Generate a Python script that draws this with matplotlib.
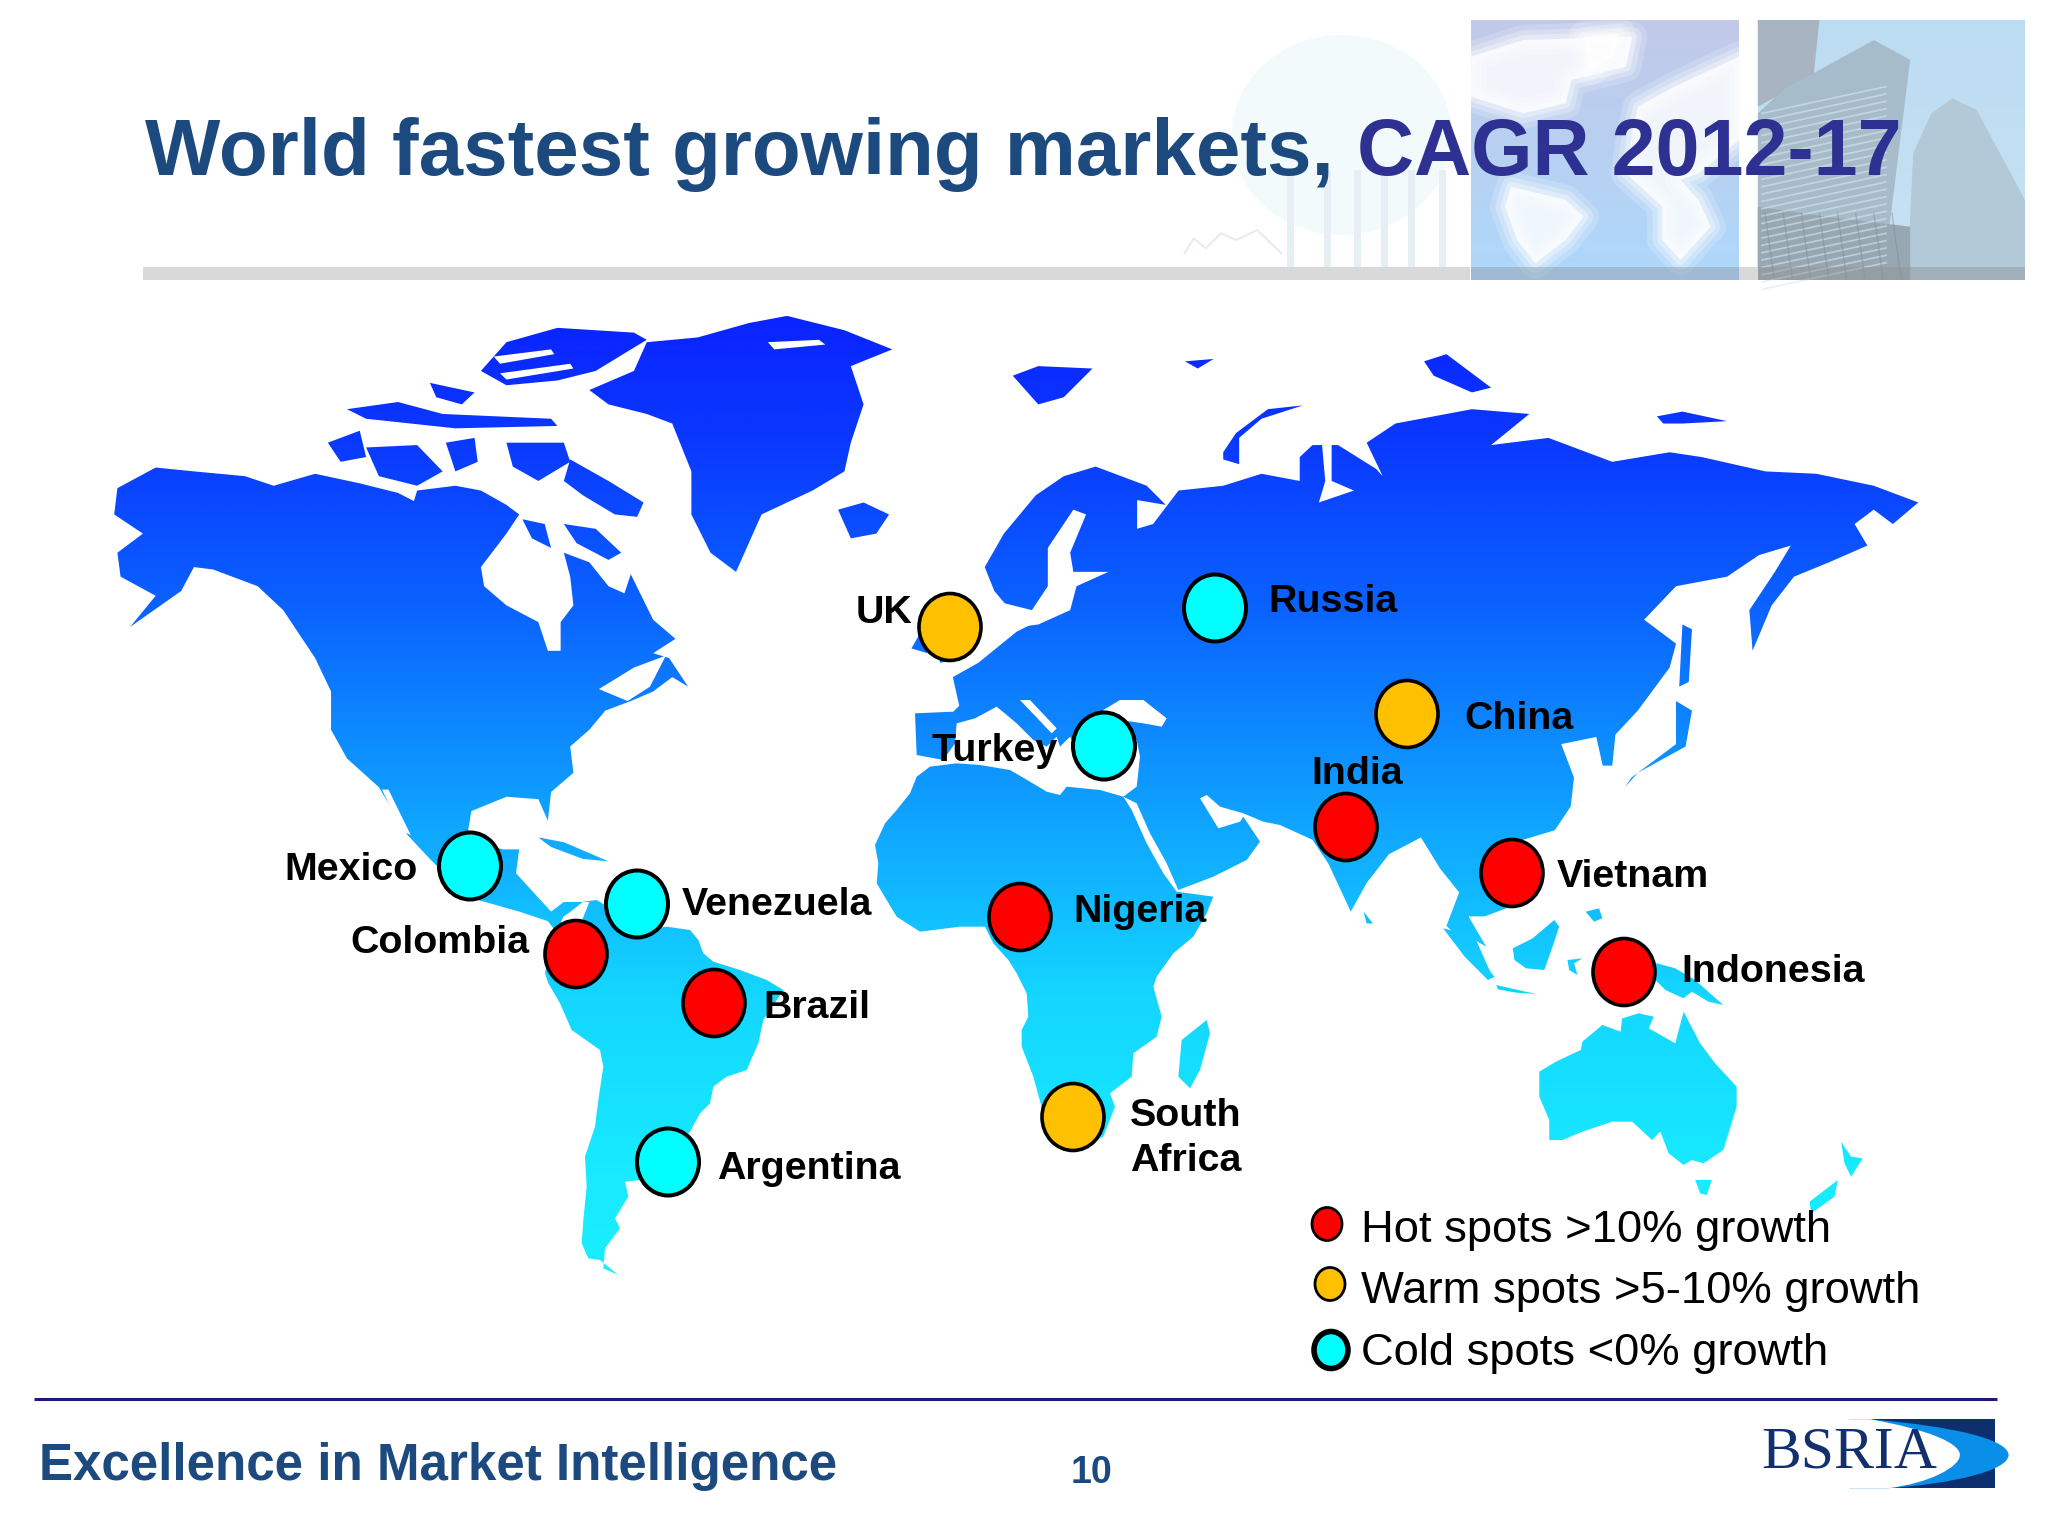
"""
World fastest growing markets slide, redrawn in pixel coordinates
"""

import matplotlib.pyplot as plt
import numpy as np
from matplotlib.colors import LinearSegmentedColormap
from matplotlib.patches import Ellipse, PathPatch, Polygon, Rectangle
from matplotlib.path import Path

FILE_NAME = 'out.png'

# ========== Data ==========
markets = ['Mexico', 'UK', 'Turkey', 'Venezuela', 'Colombia', 'Brazil', 'Argentina', 'Nigeria',
           'South\nAfrica', 'Russia', 'China', 'India', 'Vietnam', 'Indonesia']
market_group = ['cold', 'warm', 'cold', 'cold', 'hot', 'hot', 'cold', 'hot',
                'warm', 'cold', 'warm', 'hot', 'hot', 'hot']
market_x = [470, 950, 1104, 637, 576, 714, 668, 1020, 1073, 1215, 1407, 1346, 1512, 1624]
market_y = [866, 627, 746, 904, 954, 1003, 1162, 917, 1117, 608, 714, 827, 873, 972]
label_x = [284, 856, 932, 682, 350, 763, 717, 1073, 1130, 1268, 1464, 1311, 1557, 1681]
label_y = [880, 623, 761, 915, 953, 1018, 1179, 922, 1171, 612, 729, 784, 887, 982]

legend_labels = ['Hot spots >10% growth', 'Warm spots >5-10% growth', 'Cold spots <0% growth']
legend_groups = ['hot', 'warm', 'cold']
legend_marker_x = [1327, 1330, 1331]
legend_marker_y = [1224, 1284, 1350]
legend_text_y = [1242, 1303, 1365]

group_colors = {'hot': '#ff0000', 'warm': '#ffc000', 'cold': '#00ffff'}

# ========== Map outlines ==========
# Outlines were read off crops of the slide, every crop has its own origin and scale


def nw(*pts):
    return [(60 + x / 1.568, 280 + y / 2.09) for x, y in pts]


def ne(*pts):
    return [(1000 + x / 1.568, 280 + y / 2.09) for x, y in pts]


def sa(*pts):
    return [(500 + x / 3, 880 + y / 3) for x, y in pts]


def af(*pts):
    return [(860 + x / 3, 700 + y / 3) for x, y in pts]


def au(*pts):
    return [(1400 + x / 3.015, 880 + y / 3) for x, y in pts]


north_america = nw(
    (90, 435), (150, 392), (210, 400), (290, 410), (335, 430), (400, 405), (470, 425), (530, 445),
    (555, 462), (560, 440), (620, 430), (660, 440), (700, 470), (720, 490), (700, 530), (660, 600),
    (665, 640), (700, 680), (750, 715), (765, 775), (785, 775), (785, 715), (805, 680), (800, 620),
    (790, 570), (830, 590), (860, 640), (885, 655), (895, 615), (930, 710), (965, 750), (930, 780),
    (955, 790), (985, 850), (960, 830), (930, 860), (895, 880), (855, 900), (830, 940), (800, 975),
    (805, 1030), (770, 1070), (765, 1130), (750, 1085), (700, 1080), (645, 1110), (640, 1150),
    (660, 1180), (695, 1190), (720, 1190), (715, 1240), (770, 1320), (790, 1300), (830, 1300),
    (800, 1400), (765, 1340), (720, 1320), (640, 1290), (580, 1210), (545, 1160), (500, 1060),
    (450, 1000), (425, 940), (425, 860), (400, 790), (350, 690), (310, 640), (240, 605), (210, 600),
    (190, 650), (110, 725), (150, 660), (95, 620), (90, 570), (130, 530), (85, 490))
greenland = nw(
    (830, 230), (900, 190), (920, 130), (1000, 120), (1080, 90), (1140, 75), (1230, 105), (1305, 145),
    (1240, 180), (1260, 260), (1240, 340), (1230, 400), (1180, 440), (1100, 490), (1060, 610),
    (1020, 570), (990, 490), (990, 400), (960, 300), (920, 280), (860, 260))
canada_islands = [
    nw((480, 350), (560, 345), (600, 400), (560, 430), (500, 410)),
    nw((420, 340), (470, 315), (480, 370), (440, 380)),
    nw((605, 340), (650, 330), (655, 380), (620, 400)),
    nw((700, 340), (790, 340), (800, 380), (750, 420), (710, 390)),
    nw((800, 375), (860, 420), (915, 465), (905, 495), (870, 490), (820, 450), (790, 420)),
    nw((790, 510), (840, 520), (880, 570), (860, 585), (810, 550)),
    nw((725, 500), (760, 510), (770, 560), (740, 540)),
    nw((660, 190), (700, 130), (780, 100), (900, 110), (920, 125), (840, 190), (780, 210), (700, 220)),
    nw((450, 270), (530, 255), (600, 280), (770, 290), (780, 305), (620, 310), (480, 290)),
    nw((580, 215), (650, 235), (630, 260), (590, 245)),
    nw((750, 1165), (790, 1175), (860, 1215), (820, 1210), (770, 1185))]
iceland = nw((1220, 480), (1260, 465), (1300, 490), (1280, 530), (1240, 540))
uk_ireland = [nw((1335, 770), (1350, 735), (1360, 780)), nw((1370, 660), (1420, 680), (1420, 790), (1380, 800))]

south_america = sa(
    (145, 310), (180, 370), (215, 450), (300, 510), (310, 560), (295, 660), (285, 740), (255, 830),
    (260, 920), (250, 1020), (245, 1090), (265, 1135), (300, 1140), (355, 1185), (310, 1165), (315, 1105),
    (360, 1045), (345, 1015), (385, 950), (375, 905), (420, 900), (500, 840), (570, 755), (600, 700),
    (630, 670), (640, 620), (680, 590), (740, 570), (775, 490), (790, 420), (850, 330), (800, 300),
    (720, 270), (640, 245), (610, 220), (595, 180), (570, 150), (500, 140), (420, 150), (340, 90),
    (290, 60), (250, 65), (205, 100), (190, 110), (150, 200), (135, 280))
africa = af(
    (45, 435), (75, 370), (110, 330), (150, 280), (170, 230), (210, 200), (290, 190), (360, 195),
    (450, 210), (510, 245), (560, 275), (600, 285), (620, 260), (720, 270), (790, 290), (815, 330),
    (860, 430), (910, 520), (950, 575), (1060, 590), (1040, 640), (1000, 710), (940, 760), (890, 830),
    (880, 860), (905, 950), (890, 1010), (820, 1060), (815, 1130), (750, 1180), (765, 1220), (730, 1310),
    (660, 1340), (600, 1330), (550, 1240), (520, 1130), (485, 1040), (485, 990), (505, 950), (500, 880),
    (470, 820), (445, 780), (400, 730), (375, 680), (300, 680), (180, 695), (110, 650), (50, 550), (55, 490))
madagascar = af((1040, 960), (1050, 1000), (1020, 1110), (990, 1165), (955, 1130), (965, 1020))

eurasia = (
    af((170, 165), (165, 40), (280, 35))
    + nw((1410, 890), (1400, 830), (1440, 800), (1500, 735), (1530, 715), (1500, 705), (1465, 650),
         (1450, 600), (1480, 530), (1530, 450))
    + ne((100, 410), (150, 390), (230, 430), (260, 470), (215, 460), (215, 520), (240, 510), (280, 440),
         (350, 430), (410, 405), (470, 420), (470, 370), (490, 345), (530, 345), (590, 395), (600, 410),
         (575, 340), (620, 300), (740, 270), (830, 280), (770, 345), (860, 330), (960, 380), (1050, 360),
         (1100, 370), (1200, 400), (1280, 405), (1370, 430), (1440, 465), (1400, 510), (1370, 480),
         (1340, 510), (1360, 555), (1300, 590), (1245, 620), (1210, 680), (1180, 775), (1175, 690),
         (1215, 610), (1240, 555), (1190, 575), (1140, 620), (1060, 640), (1010, 710), (1060, 760),
         (1050, 810), (1000, 900), (965, 950), (960, 1015), (945, 1015), (935, 955), (880, 970), (900, 1040),
         (895, 1100), (870, 1150), (820, 1170), (800, 1310), (760, 1330), (730, 1330), (770, 1450),
         (780, 1470), (740, 1400), (700, 1350), (720, 1280), (690, 1230), (660, 1165), (610, 1200),
         (575, 1260), (550, 1320), (515, 1220), (490, 1170))
    + af((1260, 375), (1210, 365), (1150, 340), (1080, 320), (1040, 285), (1020, 295), (1075, 385),
         (1140, 365), (1150, 350), (1200, 425), (1160, 480), (1060, 530), (955, 570), (920, 490), (870, 400),
         (830, 310), (810, 300), (790, 290), (830, 260), (840, 170), (830, 120), (700, 120), (640, 130),
         (630, 110), (600, 140), (590, 110), (560, 140), (520, 120), (470, 70), (410, 20), (345, 55), (290, 70),
         (285, 130), (250, 180)))
eurasia_islands = [
    ne((350, 360), (370, 320), (420, 270), (475, 262), (410, 290), (375, 330), (375, 385), (350, 375)),
    ne((20, 200), (60, 180), (145, 185), (100, 245), (60, 260)),
    ne((665, 170), (700, 155), (770, 225), (740, 235), (680, 200)),
    ne((1030, 285), (1070, 275), (1140, 295), (1070, 300), (1040, 300)),
    ne((290, 170), (335, 165), (310, 185)),
    ne((990, 1040), (1060, 970), (1060, 880), (1085, 900), (1075, 975), (1000, 1030), (980, 1060)),
    ne((1070, 720), (1085, 730), (1080, 840), (1065, 850)),
    ne((570, 1320), (585, 1345), (575, 1345))]
oceania = [
    au((560, 95), (600, 85), (610, 115), (585, 125)),
    au((130, 145), (170, 155), (285, 290), (265, 300), (195, 230)),
    au((175, 80), (195, 90), (260, 200), (225, 180)),
    au((290, 315), (410, 342), (350, 338), (295, 328)),
    au((340, 205), (400, 175), (465, 120), (480, 140), (460, 200), (435, 270), (380, 265), (345, 240)),
    au((505, 240), (550, 235), (525, 250), (535, 285), (510, 270)),
    au((775, 250), (830, 265), (890, 300), (935, 340), (975, 375), (930, 365), (880, 335), (855, 355),
       (800, 330), (770, 300), (700, 280)),
    au((420, 575), (470, 545), (545, 510), (550, 485), (610, 435), (665, 455), (670, 415), (720, 400),
       (765, 410), (750, 445), (830, 490), (855, 395), (905, 490), (950, 550), (1015, 620), (1015, 680),
       (975, 810), (915, 850), (880, 840), (855, 855), (810, 820), (785, 755), (760, 780), (700, 725),
       (640, 725), (550, 755), (490, 780), (450, 780), (450, 720), (420, 650)),
    au((890, 900), (940, 900), (925, 945), (905, 940)),
    au((1330, 785), (1360, 830), (1395, 835), (1360, 890), (1340, 850)),
    au((1320, 900), (1310, 950), (1240, 1000), (1235, 965))]

land = [north_america, greenland, iceland, south_america, africa, madagascar, eurasia]
land += canada_islands + uk_ireland + eurasia_islands + oceania

# Water cut out of the land again
water = [
    af((730, 30), (780, 0), (850, 0), (920, 55), (905, 80), (850, 70), (780, 60), (730, 70)),
    af((480, 0), (510, 0), (590, 85), (575, 100)),
    ne((115, 480), (135, 490), (110, 570), (115, 610), (170, 610), (120, 640), (110, 690), (60, 720),
       (0, 730), (-10, 670), (50, 690), (75, 640), (75, 560)),
    ne((505, 345), (520, 345), (520, 420), (555, 440), (500, 465), (510, 420)),
    nw((845, 855), (900, 810), (950, 785), (925, 850), (890, 880)),
    nw((505, 1065), (515, 1065), (550, 1160), (535, 1150)),
    nw((1110, 130), (1190, 125), (1200, 135), (1120, 145)),
    nw((680, 160), (770, 145), (775, 155), (690, 175)),
    nw((690, 195), (800, 175), (805, 185), (700, 208))]

# ========== Plot ==========
plt.rcParams['font.family'] = ['Liberation Sans', 'DejaVu Sans']

fig = plt.figure(figsize=(20.48, 15.36), dpi=100)
ax = fig.add_axes([0, 0, 1, 1])
ax.axis('off')

# ---------- Header pictures ----------


def head(*pts):
    return [(1100 + x / 1.654, y / 3) for x, y in pts]


def vgrad(top, bottom, extent, z=1, alpha=1.0):
    cmap = LinearSegmentedColormap.from_list('g', [top, bottom])
    g = np.linspace(0, 1, 200).reshape(-1, 1)
    return ax.imshow(g, cmap=cmap, extent=extent, aspect='auto', zorder=z, alpha=alpha)


# faded globe and columns
ax.add_patch(Ellipse((1100 + 400 / 1.654, 135), 220, 200, facecolor='#f2fafc', edgecolor='none', zorder=1))
for c in (310, 370, 420, 465, 510, 560):
    ax.add_patch(Rectangle((1100 + c / 1.654, 170), 7, 105, facecolor='#e6f0f4', edgecolor='none', zorder=1.1))
ax.plot(*zip(*head((140, 760), (155, 715), (175, 745), (200, 700), (225, 720), (260, 690), (300, 760))),
        color='#e6edef', linewidth=1.5, zorder=1.1)

# clouds panel
vgrad('#c2c9e9', '#aed8fb', (1471, 1739, 280, 20))
clouds = [
    head((614, 170), (700, 120), (880, 110), (870, 200), (780, 240), (770, 310), (700, 340), (614, 290)),
    head((680, 560), (770, 600), (800, 650), (770, 720), (720, 790), (690, 720), (670, 620)),
    head((890, 320), (950, 260), (1057, 170), (1057, 420), (990, 520), (960, 540), (990, 600), (1010, 680),
         (960, 780), (930, 720), (930, 620), (870, 520), (880, 400)),
    head((800, 110), (860, 100), (850, 170), (810, 210))]
panel_box = Rectangle((1471, 20), 268, 260, transform=ax.transData)
for cloud in clouds:
    # soft edge out of a few wide strokes
    for lw, a in ((22, 0.18), (14, 0.25), (7, 0.35)):
        p = Polygon(cloud, facecolor='none', edgecolor='white', linewidth=lw, alpha=a, joinstyle='round', zorder=1.2)
        ax.add_patch(p)
        p.set_clip_path(panel_box)
    p = Polygon(cloud, facecolor='white', edgecolor='none', alpha=0.8, zorder=1.25)
    ax.add_patch(p)
    p.set_clip_path(panel_box)

# towers panel
vgrad('#bcdcf2', '#c8e2f2', (1758, 2025, 280, 20))
towers = [
    (head((1088, 60), (1190, 60), (1180, 230), (1088, 320)), '#a9b4c2'),
    (head((1280, 120), (1340, 180), (1305, 690), (1300, 840), (1088, 840), (1088, 340), (1130, 270)), '#a7bccb'),
    (head((1410, 295), (1450, 330), (1530, 600), (1530, 840), (1335, 840), (1345, 460), (1375, 340)), '#b3c9d8'),
    (head((1088, 620), (1200, 650), (1340, 680), (1340, 840), (1088, 840)), '#98a8b2')]
for tower, colour in towers:
    ax.add_patch(Polygon(tower, facecolor=colour, edgecolor='none', zorder=1.2))
for h in range(300, 830, 22):
    ax.plot(*zip(*head((1095, h + 40), (1300, h - 40))), color='#dbe7ee', linewidth=1.2, alpha=0.6, zorder=1.3)
for c in range(1100, 1340, 30):
    ax.plot(*zip(*head((c, 640), (c + 15, 835))), color='#7f8f99', linewidth=1.0, alpha=0.5, zorder=1.3)

# grey bar under the title
ax.add_patch(Rectangle((143, 267), 1327, 13, facecolor='#d9d9d9', edgecolor='none', zorder=1.4))
ax.add_patch(Rectangle((1471, 267), 268, 13, facecolor='#8d9aa6', edgecolor='none', alpha=0.45, zorder=1.4))
ax.add_patch(Rectangle((1739, 267), 19, 13, facecolor='#d9d9d9', edgecolor='none', zorder=1.4))
ax.add_patch(Rectangle((1758, 267), 267, 13, facecolor='#8d9296', edgecolor='none', alpha=0.45, zorder=1.4))

# ---------- Map ----------
verts = []
codes = []
for poly in land:
    verts += poly + [poly[0]]
    codes += [Path.MOVETO] + [Path.LINETO] * (len(poly) - 1) + [Path.CLOSEPOLY]
land_path = Path(verts, codes)
land_patch = PathPatch(land_path, transform=ax.transData, facecolor='none', edgecolor='none')
ax.add_patch(land_patch)

land_cmap = LinearSegmentedColormap.from_list(
    'land', [(0.0, '#0a22ff'), (0.14, '#0a3aff'), (0.30, '#0b62ff'), (0.50, '#0f9eff'),
             (0.70, '#14d6ff'), (0.88, '#18eaff'), (1.0, '#1aeeff')])
gradient = np.linspace(0, 1, 512).reshape(-1, 1)
map_img = ax.imshow(gradient, cmap=land_cmap, extent=(0, 2048, 1290, 310), aspect='auto', zorder=2)
map_img.set_clip_path(land_patch)

for poly in water:
    ax.add_patch(Polygon(poly, facecolor='white', edgecolor='none', zorder=2.1))

# ---------- Markets ----------
for x, y, grp in zip(market_x, market_y, market_group):
    ax.add_patch(Ellipse((x, y), 62, 67, facecolor=group_colors[grp], edgecolor='black',
                         linewidth=2.6 if grp != 'cold' else 2.9, zorder=3))

for name, x, y in zip(markets, label_x, label_y):
    ax.text(x, y, name, fontsize=28.4, fontweight='bold', color='black', ha='left', va='baseline',
            linespacing=1.32, zorder=4)

# ---------- Legend ----------
for x, y, grp, lbl, ty in zip(legend_marker_x, legend_marker_y, legend_groups, legend_labels, legend_text_y):
    wide = 34 if grp == 'cold' else 30
    tall = 37 if grp == 'cold' else 33
    ax.add_patch(Ellipse((x, y), wide, tall, facecolor=group_colors[grp], edgecolor='black',
                         linewidth=4 if grp == 'cold' else 2, zorder=3))
    ax.text(1361, ty, lbl, fontsize=32.7, color='black', ha='left', va='baseline', zorder=4)

# ---------- Title and footer ----------
ax.text(145, 175, 'World fastest growing markets,', fontsize=57.5, fontweight='bold', color='#1c4a7e',
        ha='left', va='baseline', zorder=5)
ax.text(1357, 175, 'CAGR 2012-17', fontsize=56.9, fontweight='bold', color='#2e3192',
        ha='left', va='baseline', zorder=5)

ax.plot([34, 1997], [1399, 1399], color='#1f1a7a', linewidth=2.2, solid_capstyle='butt', zorder=2)
ax.text(39, 1480, 'Excellence in Market Intelligence', fontsize=36.8, fontweight='bold', color='#1c4a7e',
        ha='left', va='baseline')
ax.text(1071, 1483, '10', fontsize=27, fontweight='bold', color='#1c4a7e', ha='left', va='baseline')

# ---------- Logo ----------


def logo(*pts):
    return [(1200 + x / 1.849, 1180 + y / 3) for x, y in pts]


ax.add_patch(Polygon(logo((1240, 718), (1470, 718), (1470, 925), (1270, 925)),
                     facecolor='#0d2f6e', edgecolor='none', zorder=2))
bow = logo((1240, 718), (1400, 740), (1495, 780), (1495, 825), (1495, 870), (1400, 910), (1270, 925),
           (1200, 925), (1200, 718), (1240, 718))
ax.add_patch(PathPatch(Path(bow, [Path.MOVETO, Path.CURVE4, Path.CURVE4, Path.CURVE4, Path.CURVE4,
                                  Path.CURVE4, Path.CURVE4, Path.LINETO, Path.LINETO, Path.CLOSEPOLY]),
                       facecolor='#0a8fe8', edgecolor='none', zorder=2.1))
inner = logo((1240, 718), (1350, 750), (1405, 790), (1405, 825), (1405, 860), (1350, 910), (1270, 925),
             (1190, 925), (1190, 718), (1240, 718))
ax.add_patch(PathPatch(Path(inner, [Path.MOVETO, Path.CURVE4, Path.CURVE4, Path.CURVE4, Path.CURVE4,
                                    Path.CURVE4, Path.CURVE4, Path.LINETO, Path.LINETO, Path.CLOSEPOLY]),
                       facecolor='white', edgecolor='none', zorder=2.2))
ax.text(1761, 1468, 'BSRIA', fontsize=43, family='Liberation Serif', color='#12306e', ha='left', va='baseline',
        zorder=3)

ax.set_xlim(0, 2048)
ax.set_ylim(1536, 0)

plt.savefig(FILE_NAME, dpi=fig.dpi)
